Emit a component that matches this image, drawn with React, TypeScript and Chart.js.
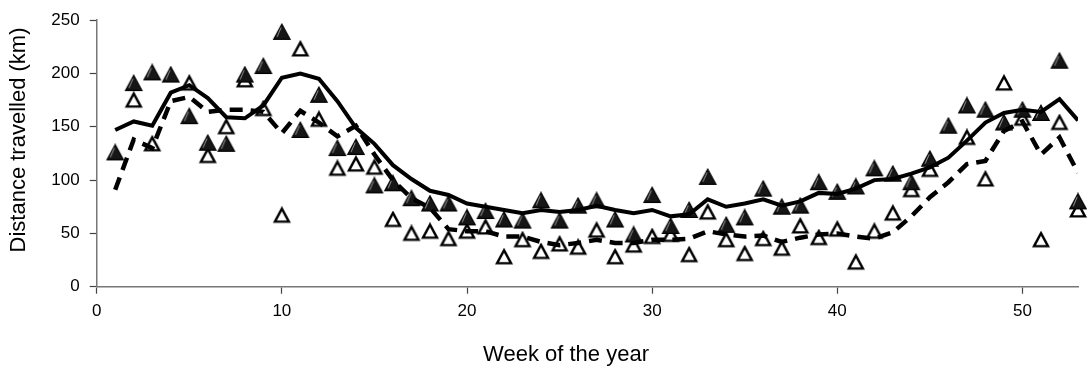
import { useEffect, useRef } from 'react';
import { Chart, registerables } from 'chart.js';

Chart.register(...registerables);

// Week numbers on the horizontal axis
const weeks = [
  1, 2, 3, 4, 5, 6, 7, 8, 9, 10, 11, 12, 13, 14, 15, 16, 17, 18, 19, 20,
  21, 22, 23, 24, 25, 26, 27, 28, 29, 30, 31, 32, 33, 34, 35, 36, 37, 38, 39, 40,
  41, 42, 43, 44, 45, 46, 47, 48, 49, 50, 51, 52, 53,
];

// Weekly distances, filled markers (km)
const filledWeekly = [
  126, 191, 201, 199, 160, 135, 134, 199, 207, 239, 147, 180, 130, 131, 95, 97, 83, 78, 78, 65,
  71, 63, 62, 81, 62, 76, 81, 63, 49, 86, 57, 72, 103, 58, 65, 92, 75, 76, 98, 89,
  94, 111, 106, 98, 120, 151, 170, 166, 154, 166, 163, 212, 80,
];

// Weekly distances, open markers (km); null where no value was recorded
const openWeekly: (number | null)[] = [
  null, 175, 134, null, 191, 123, 150, 194, 167, 67, 223, 157, 111, 115, 112, 63, 50, 52, 45, 52,
  56, 28, 44, 33, 40, 37, 53, 28, 39, 47, 49, 30, 70, 44, 31, 45, 36, 57, 46, 54,
  23, 52, 69, 91, 110, null, 140, 101, 191, 158, 44, 154, 72,
];

// Smoothed trend for the filled series (solid line)
const solidTrend = [
  147, 155, 151, 182, 189, 177, 159, 158, 170, 196, 200, 195, 174, 149, 134, 114, 101, 90, 86, 78,
  75, 72, 69, 72, 70, 72, 76, 72, 69, 72, 66, 68, 82, 75, 78, 82, 76, 80, 88, 87,
  92, 100, 101, 106, 112, 121, 137, 154, 163, 166, 164, 176, 156,
];

// Smoothed trend for the open series (dashed line)
const dashedTrend = [
  91, 138, 130, 174, 178, 164, 166, 166, 164, 144, 165, 154, 141, 151, 124, 100, 83, 74, 54, 52,
  52, 47, 47, 42, 39, 41, 44, 41, 41, 44, 44, 45, 52, 49, 47, 48, 42, 46, 49, 50,
  47, 45, 51, 66, 84, 98, 115, 118, 146, 155, 124, 140, 107,
];

const xTickValues = [0, 10, 20, 30, 40, 50];
const yTickValues = [0, 50, 100, 150, 200, 250];

const xTitle = 'Week of the year';
const yTitle = 'Distance travelled (km)';

const FONT = '"Liberation Sans", Arial, Helvetica, sans-serif';

function toPoints(values: (number | null)[]) {
  return weeks.map((w, i) => ({ x: w, y: values[i] }));
}

function makeTriangle(filled: boolean): HTMLCanvasElement {
  const c = document.createElement('canvas');
  c.width = 20;
  c.height = 18;
  const g = c.getContext('2d') as CanvasRenderingContext2D;
  g.lineJoin = 'miter';
  g.beginPath();
  if (filled) {
    g.moveTo(10, 1.2);
    g.lineTo(18.2, 16.3);
    g.lineTo(1.8, 16.3);
  } else {
    g.moveTo(10, 2.4);
    g.lineTo(17, 15.4);
    g.lineTo(3, 15.4);
  }
  g.closePath();
  if (filled) {
    g.fillStyle = '#161616';
    g.fill();
    g.lineWidth = 1.2;
    g.strokeStyle = '#000';
    g.stroke();
    // light sheen along the left face
    g.beginPath();
    g.moveTo(9.2, 4.5);
    g.lineTo(5.2, 13.8);
    g.lineWidth = 1;
    g.strokeStyle = 'rgba(200,200,200,0.75)';
    g.stroke();
  } else {
    g.fillStyle = '#fff';
    g.fill();
    g.lineWidth = 2.4;
    g.strokeStyle = '#000';
    g.stroke();
  }
  return c;
}

const axisTitlePlugin = {
  id: 'axisTitlePlugin',
  afterDraw(chart: Chart) {
    const { ctx } = chart;
    ctx.save();
    ctx.fillStyle = '#000';
    ctx.font = `22px ${FONT}`;
    ctx.textAlign = 'center';
    ctx.textBaseline = 'middle';
    ctx.fillText(xTitle, 566, 355);
    ctx.translate(19, 140);
    ctx.rotate(-Math.PI / 2);
    ctx.fillText(yTitle, 0, 0);
    ctx.restore();
  },
};

export default function App() {
  const canvasRef = useRef<HTMLCanvasElement | null>(null);

  useEffect(() => {
    const canvas = canvasRef.current;
    if (!canvas) return;
    const filledMarker = makeTriangle(true);
    const openMarker = makeTriangle(false);

    const chart = new Chart(canvas, {
      type: 'line',
      data: {
        datasets: [
          {
            label: 'solid',
            data: toPoints(solidTrend),
            borderColor: '#000',
            borderWidth: 4,
            pointRadius: 0,
            tension: 0,
            fill: false,
            order: 1,
          },
          {
            label: 'dashed',
            data: toPoints(dashedTrend),
            borderColor: '#000',
            borderWidth: 4.5,
            borderDash: [13, 8],
            pointRadius: 0,
            tension: 0,
            fill: false,
            order: 2,
          },
          {
            label: 'filled',
            data: toPoints(filledWeekly),
            showLine: false,
            pointStyle: filledMarker,
            pointRadius: 8,
            clip: false,
            order: 3,
          },
          {
            label: 'open',
            data: toPoints(openWeekly),
            showLine: false,
            pointStyle: openMarker,
            pointRadius: 8,
            clip: false,
            order: 4,
          },
        ],
      },
      options: {
        responsive: false,
        animation: false,
        events: [],
        layout: { padding: { left: 0, right: 3, top: 15, bottom: 0 } },
        plugins: {
          legend: { display: false },
          tooltip: { enabled: false },
        },
        scales: {
          x: {
            type: 'linear',
            min: 0,
            max: 53,
            afterBuildTicks: (scale: any) => {
              scale.ticks = xTickValues.map((v) => ({ value: v }));
            },
            afterFit: (scale: any) => {
              scale.height = 84.3;
            },
            grid: {
              drawOnChartArea: false,
              drawTicks: true,
              tickLength: 7,
              tickColor: '#444',
              tickWidth: 1.2,
            },
            border: { display: true, color: '#777', width: 1.5 },
            ticks: {
              color: '#000',
              padding: 7,
              maxRotation: 0,
              autoSkip: false,
              font: { family: FONT, size: 17 },
            },
          },
          y: {
            type: 'linear',
            min: 0,
            max: 250,
            afterBuildTicks: (scale: any) => {
              scale.ticks = yTickValues.map((v) => ({ value: v }));
            },
            afterFit: (scale: any) => {
              scale.width = 96.7;
            },
            grid: {
              drawOnChartArea: false,
              drawTicks: true,
              tickLength: 7,
              tickColor: '#444',
              tickWidth: 1.2,
            },
            border: { display: true, color: '#777', width: 1.5 },
            ticks: {
              color: '#000',
              padding: 10,
              autoSkip: false,
              font: { family: FONT, size: 17 },
            },
          },
        },
      },
      plugins: [axisTitlePlugin],
    });

    return () => chart.destroy();
  }, []);

  return (
    <div style={{ position: 'absolute', left: 0, top: 0, width: 1087, height: 371, background: '#fff' }}>
      <canvas ref={canvasRef} width={1087} height={371} style={{ display: 'block' }} />
    </div>
  );
}
